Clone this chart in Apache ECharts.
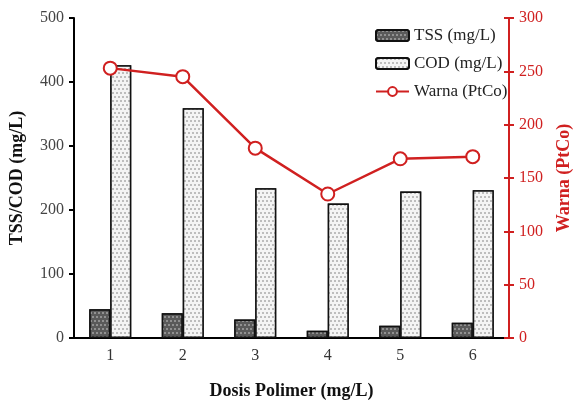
<!DOCTYPE html>
<html><head><meta charset="utf-8">
<script src="https://cdn.jsdelivr.net/npm/echarts@6/dist/echarts.min.js"></script>
<style>html,body{margin:0;padding:0;background:#fff}#c{width:581px;height:410px}</style>
</head><body><div id="c"></div>
<script>
const categories = ['1','2','3','4','5','6'];
const tss = [45, 38.5, 29, 11.5, 19, 24];
const cod = [426, 359, 234, 210, 229, 231];
const warna = [253, 245, 178, 135, 168, 170];
const leftTicks = {min:0, max:500, interval:100};
const rightTicks = {min:0, max:300, interval:50};

const red = '#d02020';
const font = 'Liberation Serif';
const chart = echarts.init(document.getElementById('c'));
chart.setOption({
  animation:false,
  textStyle:{fontFamily:font},
  grid:{left:72, right:64, top:18, bottom:72},
  legend:{
    orient:'vertical', left:370, top:22, itemGap:11, itemWidth:33, itemHeight:11,
    textStyle:{fontFamily:font, fontSize:17, color:'#222'},
    data:[{name:'TSS (mg/L)'},{name:'COD (mg/L)'},{name:'Warna (PtCo)'}]
  },
  xAxis:{
    type:'category', data:categories,
    axisLine:{lineStyle:{color:'#000', width:2}},
    axisTick:{alignWithLabel:true, length:5, lineStyle:{color:'#000', width:2}},
    axisLabel:{fontFamily:font, fontSize:16, color:'#333', margin:10},
    name:'Dosis Polimer (mg/L)', nameLocation:'middle', nameGap:44,
    nameTextStyle:{fontFamily:font, fontSize:18, fontWeight:'bold', color:'#111'}
  },
  yAxis:[{
    type:'value', min:leftTicks.min, max:leftTicks.max, interval:leftTicks.interval,
    splitLine:{show:false},
    axisLine:{show:true, lineStyle:{color:'#000', width:2}},
    axisTick:{show:true, length:5, lineStyle:{color:'#000', width:2}},
    axisLabel:{fontFamily:font, fontSize:16, color:'#444', margin:10},
    name:'TSS/COD (mg/L)', nameLocation:'middle', nameGap:48, nameRotate:90,
    nameTextStyle:{fontFamily:font, fontSize:18, fontWeight:'bold', color:'#111'}
  },{
    type:'value', min:rightTicks.min, max:rightTicks.max, interval:rightTicks.interval,
    position:'right', splitLine:{show:false},
    axisLine:{show:true, lineStyle:{color:red, width:2}},
    axisTick:{show:true, length:5, lineStyle:{color:red, width:2}},
    axisLabel:{fontFamily:font, fontSize:16, color:red, margin:10},
    name:'Warna (PtCo)', nameLocation:'middle', nameGap:46, nameRotate:90,
    nameTextStyle:{fontFamily:font, fontSize:18, fontWeight:'bold', color:red}
  },{
    type:'value', min:rightTicks.min, max:rightTicks.max, interval:rightTicks.interval,
    position:'right', splitLine:{show:false},
    axisLine:{show:false},
    axisTick:{show:true, inside:true, length:5, lineStyle:{color:red, width:2}},
    axisLabel:{show:false}
  }],
  series:[{
    name:'TSS (mg/L)', type:'bar', data:tss, barWidth:21, barGap:'0%',
    itemStyle:{color:'#5a5a5a', borderColor:'#111', borderWidth:1.5,
      decal:{symbol:'circle', symbolSize:0.8, color:'#d8d8d8', backgroundColor:'#5a5a5a', dashArrayX:[[2,2],[0,2,2,0]], dashArrayY:[2,2]}}
  },{
    name:'COD (mg/L)', type:'bar', data:cod, barWidth:21,
    itemStyle:{color:'#e6e6e6', borderColor:'#111', borderWidth:1.5,
      decal:{symbol:'circle', symbolSize:0.8, color:'#777', backgroundColor:'#f4f4f4', dashArrayX:[[1.5,1.5],[0,1.5,1.5,0]], dashArrayY:[1.5,1.5]}}
  },{
    name:'Warna (PtCo)', type:'line', yAxisIndex:1, data:warna,
    symbol:'emptyCircle', symbolSize:13,
    lineStyle:{color:red, width:2.5},
    itemStyle:{color:red, borderColor:red, borderWidth:2}
  }]
});
</script></body></html>
